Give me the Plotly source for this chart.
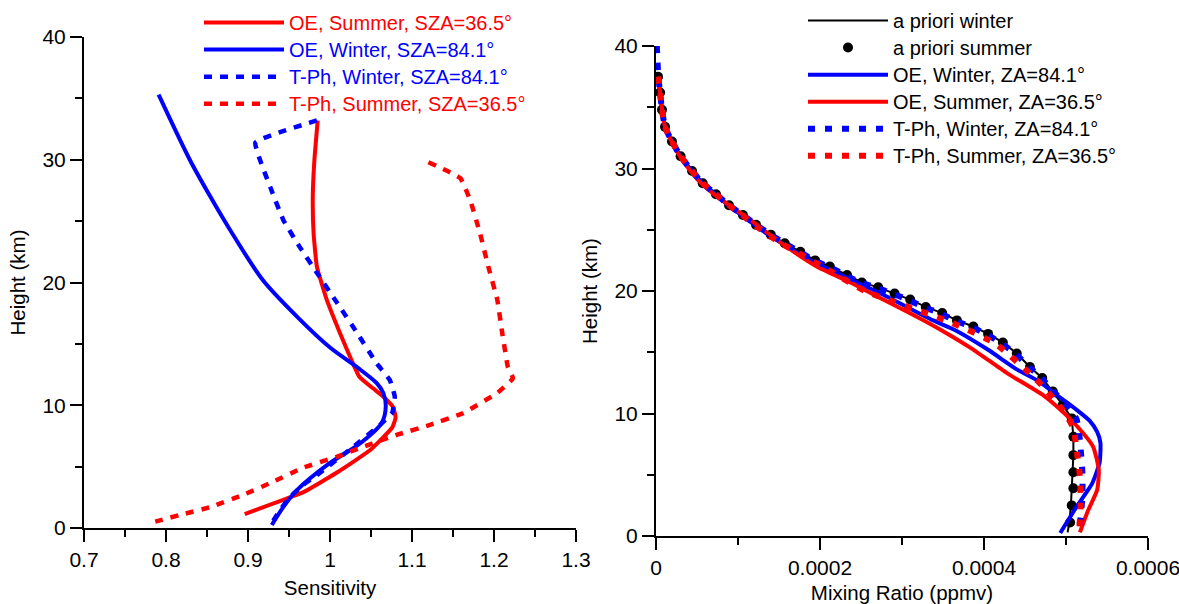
import plotly.graph_objects as go

# ---------------- Left panel: Sensitivity ----------------
oe_sum_h = [33.2, 30, 27, 24, 21.3, 18.6, 15.9, 13.7, 12.3, 11.4, 10.7, 9.85, 9.0, 8.2, 6.35, 4.5, 2.9, 2.3, 1.14]
oe_sum_s = [0.985, 0.981, 0.979, 0.980, 0.984, 0.996, 1.012, 1.026, 1.036, 1.052, 1.065, 1.077, 1.080, 1.076, 1.049, 1.008, 0.967, 0.943, 0.896]

oe_win_h = [35.3, 30, 27, 24.3, 20.2, 17.2, 14.7, 13.1, 11.8, 11.0, 9.9, 8.55, 6.9, 5.3, 3.1, 1.7, 0.24]
oe_win_s = [0.791, 0.829, 0.854, 0.878, 0.918, 0.960, 1.000, 1.033, 1.057, 1.065, 1.068, 1.063, 1.037, 1.000, 0.960, 0.943, 0.929]

tph_win_h = [33.2, 31.4, 27.8, 25.1, 22.9, 20.8, 18.3, 15.9, 13.4, 12.05, 10.7, 9.4, 8.4, 6.6, 4.3, 3.5, 2.5, 1.47, 0.4]
tph_win_s = [0.984, 0.909, 0.927, 0.943, 0.963, 0.984, 1.009, 1.033, 1.057, 1.073, 1.079, 1.076, 1.061, 1.028, 0.984, 0.967, 0.951, 0.939, 0.929]

tph_sum_h = [29.8, 28.5, 26.7, 24.0, 21.3, 18.6, 15.9, 13.1, 12.2, 11.0, 9.35, 8.4, 7.6, 6.6, 5.8, 4.9, 3.75, 2.7, 1.7, 1.06, 0.4]
tph_sum_s = [1.120, 1.159, 1.171, 1.183, 1.193, 1.204, 1.210, 1.217, 1.223, 1.204, 1.162, 1.122, 1.082, 1.040, 1.008, 0.967, 0.930, 0.894, 0.854, 0.817, 0.780]

# ---------------- Right panel: Mixing ratio ----------------
ap_sum_h = [37.5, 36.2, 34.8, 33.4, 32.2, 31.0, 29.8, 28.8, 27.9, 27.0, 26.2, 25.4, 24.6, 23.9, 23.2, 22.5, 22.0,
            21.3, 20.7, 20.3, 19.8, 19.3, 18.7, 18.2, 17.6, 17.1, 16.5, 15.8, 14.9, 13.8, 12.9, 11.8, 10.7, 9.6,
            8.1, 6.6, 5.2, 3.9, 2.5, 1.1]
ap_sum_m = [0.0000024, 0.000005, 0.0000073, 0.000011, 0.0000195, 0.00003, 0.000044, 0.000057, 0.0000732, 0.000089,
            0.000106, 0.000122, 0.00014, 0.000157, 0.000176, 0.000194, 0.000212, 0.000233, 0.000251, 0.000271,
            0.000291, 0.00031, 0.000329, 0.000349, 0.000367, 0.000387, 0.000405, 0.000423, 0.00044, 0.000456,
            0.000471, 0.000484, 0.000496, 0.000507, 0.000509, 0.000509, 0.000509, 0.000509, 0.000507, 0.000505]

ap_win_h = [37.5, 36.2, 34.8, 33.4, 32.2, 31.0, 29.8, 28.8, 27.9, 27.0, 26.2, 25.4, 24.6, 23.9, 23.2, 22.5, 22.0,
            21.3, 20.7, 20.3, 19.8, 19.3, 18.7, 18.2, 17.6, 17.1, 16.5, 15.8, 14.9, 13.8, 12.9, 11.8, 10.7, 9.6,
            8.1, 6.6, 5.2, 3.9, 2.5, 1.1, 0.3]
ap_win_m = [0.0000024, 0.000005, 0.0000073, 0.000011, 0.0000195, 0.00003, 0.000044, 0.000057, 0.0000732, 0.000089,
            0.000106, 0.000122, 0.00014, 0.000157, 0.000176, 0.000194, 0.000212, 0.000233, 0.000251, 0.000271,
            0.000291, 0.00031, 0.000329, 0.000349, 0.000367, 0.000387, 0.000405, 0.000423, 0.00044, 0.000456,
            0.000471, 0.000484, 0.000496, 0.000507, 0.000509, 0.000509, 0.000508, 0.000507, 0.000506, 0.000504, 0.000502]

oe_win_mh = [37.5, 36.2, 34.8, 33.4, 32.2, 31.0, 29.8, 28.8, 27.9, 27.0, 24.6, 22.5, 21.3, 19.7, 17.6, 16.8, 15.2,
             13.6, 12.7, 11.2, 10.3, 9.4, 8.5, 7.6, 6.0, 4.3, 2.4, 0.25]
oe_win_m = [0.0000024, 0.000005, 0.0000073, 0.000011, 0.0000195, 0.00003, 0.000044, 0.000057, 0.0000725, 0.000088,
            0.000137, 0.000188, 0.000226, 0.000277, 0.000338, 0.000365, 0.000405, 0.00044, 0.000465, 0.000495,
            0.000513, 0.000529, 0.000538, 0.000542, 0.000541, 0.000532, 0.000513, 0.000493]

oe_sum_mh = [37.5, 36.2, 34.8, 33.4, 32.2, 31.0, 29.8, 28.8, 27.7, 25.8, 23.8, 22.0, 20.7, 19.3, 17.9, 16.8, 15.3,
             13.3, 11.5, 10.2, 9.0, 7.3, 5.4, 3.75, 2.1, 0.3]
oe_sum_m = [0.0000024, 0.000005, 0.0000075, 0.000011, 0.000019, 0.000029, 0.000042, 0.000055, 0.0000744, 0.000115,
            0.000155, 0.000196, 0.000237, 0.000277, 0.000318, 0.000348, 0.000385, 0.000428, 0.000472, 0.000495,
            0.000513, 0.000533, 0.00054, 0.000538, 0.000527, 0.000517]

tph_win_mh = [40.0, 38.8, 37.5, 36.2, 34.8, 33.4, 32.2, 31.0, 29.8, 28.8, 27.9, 27.0, 26.2, 25.4, 24.6, 23.9, 23.2,
              22.5, 22.0, 21.3, 20.7, 20.3, 19.8, 19.3, 18.7, 18.2, 17.6, 17.1, 16.5, 15.8, 14.9, 13.8, 12.9, 11.5,
              10.4, 9.5, 7.8, 5.1, 3.2, 1.1, 0.3]
tph_win_m = [0.000001, 0.0000018, 0.0000028, 0.000005, 0.0000073, 0.000011, 0.0000195, 0.00003, 0.000044, 0.000057,
             0.0000732, 0.000089, 0.000106, 0.000122, 0.00014, 0.000157, 0.000175, 0.000193, 0.00021, 0.000231,
             0.000249, 0.000268, 0.000288, 0.000307, 0.000326, 0.000346, 0.000364, 0.000384, 0.000402, 0.00042,
             0.000438, 0.000455, 0.00047, 0.000489, 0.000505, 0.000513, 0.000517, 0.00052, 0.00052, 0.000517, 0.000513]

tph_sum_mh = [37.5, 36.2, 34.8, 33.4, 32.2, 31.0, 29.8, 28.8, 27.9, 27.0, 26.2, 25.4, 24.0, 22.0, 20.0, 17.4, 15.7,
              13.0, 12.2, 10.9, 10.0, 8.8, 7.0, 4.8, 2.7, 0.3]
tph_sum_m = [0.0000024, 0.000005, 0.0000073, 0.000011, 0.0000195, 0.00003, 0.000044, 0.000057, 0.0000732, 0.000089,
             0.000105, 0.00012, 0.00015, 0.000203, 0.000255, 0.000361, 0.000414, 0.00046, 0.000472, 0.000489,
             0.000499, 0.000509, 0.000513, 0.000517, 0.000518, 0.000516]

sens_ticks = [0.7, 0.8, 0.9, 1.0, 1.1, 1.2, 1.3]
sens_labels = ["0.7", "0.8", "0.9", "1", "1.1", "1.2", "1.3"]
mix_ticks = [0, 0.0002, 0.0004, 0.0006]
mix_labels = ["0", "0.0002", "0.0004", "0.0006"]
h_ticks = [0, 10, 20, 30, 40]

RED = "#ff0000"
BLUE = "#0000ff"
FONT = "Liberation Sans, Arial, sans-serif"

fig = go.Figure()


def lab(txt, col):
    return '<span style="color:%s;font-size:20px">%s</span>' % (col, txt)


# left traces
fig.add_trace(go.Scatter(x=oe_sum_s, y=oe_sum_h, mode="lines", name=lab("OE, Summer, SZA=36.5°", RED),
                         line=dict(color=RED, width=4, shape="spline", smoothing=0.4), xaxis="x", yaxis="y", legend="legend"))
fig.add_trace(go.Scatter(x=oe_win_s, y=oe_win_h, mode="lines", name=lab("OE, Winter, SZA=84.1°", BLUE),
                         line=dict(color=BLUE, width=4, shape="spline", smoothing=0.8), xaxis="x", yaxis="y", legend="legend"))
fig.add_trace(go.Scatter(x=tph_win_s, y=tph_win_h, mode="lines", name=lab("T-Ph, Winter, SZA=84.1°", BLUE),
                         line=dict(color=BLUE, width=4.5, dash="8px,8px", shape="spline", smoothing=0.3),
                         xaxis="x", yaxis="y", legend="legend"))
fig.add_trace(go.Scatter(x=tph_sum_s, y=tph_sum_h, mode="lines", name=lab("T-Ph, Summer, SZA=36.5°", RED),
                         line=dict(color=RED, width=4.5, dash="8px,8px", shape="spline", smoothing=0.3),
                         xaxis="x", yaxis="y", legend="legend"))

# right traces
fig.add_trace(go.Scatter(x=ap_win_m, y=ap_win_h, mode="lines", name=lab("a priori winter", "black"),
                         line=dict(color="black", width=2), xaxis="x2", yaxis="y2", legend="legend2"))
fig.add_trace(go.Scatter(x=ap_sum_m, y=ap_sum_h, mode="markers", name=lab("a priori summer", "black"),
                         marker=dict(color="black", size=10), xaxis="x2", yaxis="y2", legend="legend2"))
fig.add_trace(go.Scatter(x=oe_win_m, y=oe_win_mh, mode="lines", name=lab("OE, Winter, ZA=84.1°", "black"),
                         line=dict(color=BLUE, width=4, shape="spline", smoothing=0.5), xaxis="x2", yaxis="y2", legend="legend2"))
fig.add_trace(go.Scatter(x=oe_sum_m, y=oe_sum_mh, mode="lines", name=lab("OE, Summer, ZA=36.5°", "black"),
                         line=dict(color=RED, width=4, shape="spline", smoothing=0.5), xaxis="x2", yaxis="y2", legend="legend2"))
fig.add_trace(go.Scatter(x=tph_win_m, y=tph_win_mh, mode="lines", name=lab("T-Ph, Winter, ZA=84.1°", "black"),
                         line=dict(color=BLUE, width=6, dash="7px,10px", shape="spline", smoothing=0.5),
                         xaxis="x2", yaxis="y2", legend="legend2"))
fig.add_trace(go.Scatter(x=tph_sum_m, y=tph_sum_mh, mode="lines", name=lab("T-Ph, Summer, ZA=36.5°", "black"),
                         line=dict(color=RED, width=6, dash="7px,10px", shape="spline", smoothing=0.5),
                         xaxis="x2", yaxis="y2", legend="legend2"))

W, H = 1179, 604


def px_x(p):
    return p / W


def px_y(p):
    return (H - p) / H


axis_common = dict(showgrid=False, zeroline=False, showline=True, linecolor="black", linewidth=2,
                   ticks="outside", ticklen=12, tickwidth=2, tickcolor="black", ticklabeloverflow="allow",
                   tickfont=dict(family=FONT, size=21, color="black"), automargin=False)
minor_common = dict(ticks="outside", ticklen=7, tickwidth=2, tickcolor="black", showgrid=False)

fig.update_layout(
    width=W, height=H, margin=dict(l=0, r=0, t=0, b=0),
    paper_bgcolor="white", plot_bgcolor="white",
    font=dict(family=FONT, size=19, color="black"),
    xaxis=dict(domain=[px_x(84), px_x(576)], range=[0.7, 1.3], tickvals=sens_ticks, ticktext=sens_labels,
               minor=dict(dtick=0.05, tick0=0.7, **minor_common),
               title=dict(text="Sensitivity", font=dict(family=FONT, size=20.5), standoff=10),
               anchor="y", **axis_common),
    yaxis=dict(domain=[px_y(528), px_y(37)], range=[0, 40], tickvals=h_ticks,
               minor=dict(dtick=5, tick0=0, **minor_common),
               title=dict(text="Height (km)", font=dict(family=FONT, size=20.5), standoff=11),
               anchor="x", **axis_common),
    xaxis2=dict(domain=[px_x(656), px_x(1148)], range=[0, 0.0006], tickvals=mix_ticks, ticktext=mix_labels,
                minor=dict(dtick=0.0001, tick0=0, **minor_common),
                title=dict(text="Mixing Ratio (ppmv)", font=dict(family=FONT, size=20.5), standoff=19),
                anchor="y2", **axis_common),
    yaxis2=dict(domain=[px_y(536), px_y(46)], range=[0, 40], tickvals=h_ticks,
                minor=dict(dtick=5, tick0=0, **minor_common),
                title=dict(text="Height (km)", font=dict(family=FONT, size=20.5), standoff=11),
                anchor="x2", **axis_common),
    legend=dict(x=px_x(199), y=px_y(4), xanchor="left", yanchor="top", bgcolor="rgba(0,0,0,0)",
                font=dict(family=FONT, size=18.5, color="black"), itemwidth=80, tracegroupgap=0),
    legend2=dict(x=px_x(803), y=px_y(2), xanchor="left", yanchor="top", bgcolor="rgba(0,0,0,0)",
                 font=dict(family=FONT, size=18.5, color="black"), itemwidth=80, tracegroupgap=0),
)

fig.write_html("out.html", config={"displayModeBar": False},
               post_script="document.body.style.margin='0';document.body.style.overflow='hidden';")
